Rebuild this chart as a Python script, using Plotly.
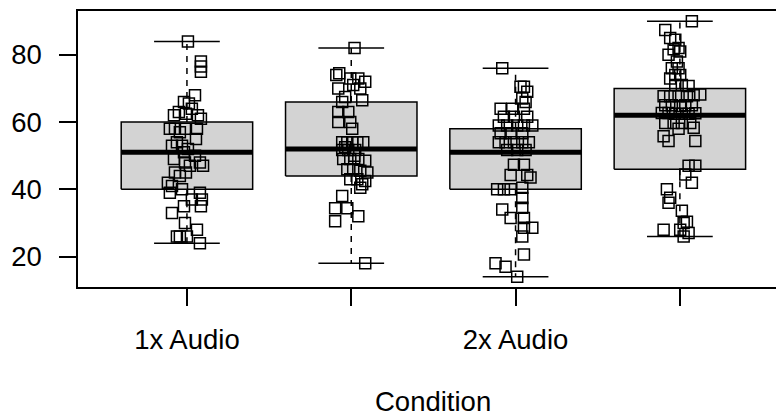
import plotly.graph_objects as go

# Condition positions and axis labels
positions = [1, 2, 3, 4]
tick_labels = ["1x Audio", "", "2x Audio", ""]
y_ticks = [20, 40, 60, 80]

# Box statistics per condition (lower whisker, Q1, median, Q3, upper whisker)
lower_whisker = [24, 18, 14, 26]
q1 = [40, 44, 40, 46]
median = [51, 52, 51, 62]
q3 = [60, 66, 58, 70]
upper_whisker = [84, 82, 76, 90]

# Individual scores and their horizontal jitter (category units)
g1_values = [84, 78, 76.5, 75, 68, 66, 65.5, 64, 63, 62, 62.5, 62, 61, 58, 58, 57, 58, 58, 55, 53,
             54, 53, 52, 51, 49, 48, 48, 47, 45, 44, 45, 42, 41, 39, 39, 37, 37, 35, 33, 30,
             26, 26, 26, 28, 24, 35, 40, 50, 47]
g1_jitter = [0.006, 0.085, 0.085, 0.085, 0.049, -0.018, 0.012, 0.030, -0.049, -0.079, -0.006, 0.067,
             0.085, -0.104, -0.073, -0.043, -0.012, 0.061, 0.055, -0.091, -0.061, -0.030, 0.006,
             -0.018, -0.079, -0.012, 0.079, 0.098, -0.073, -0.043, -0.006, -0.116, -0.091, -0.104,
             0.079, 0.091, 0.030, 0.085, -0.091, -0.012, -0.043, -0.061, 0.000, 0.061, 0.079,
             -0.018, -0.030, 0.049, 0.018]

g2_values = [82, 74, 74.5, 70, 73, 73, 72, 71, 70, 67.5, 66.5, 66, 63, 63, 60, 60, 58, 54, 54, 54,
             54, 54, 51.7, 51.7, 51.7, 49, 49, 49, 48.5, 46, 46, 45.5, 45, 43, 43, 42.5, 40.5, 41.5,
             38, 34.4, 34.4, 30.5, 32, 18, 52.5, 50]
g2_jitter = [0.020, -0.091, -0.073, -0.079, -0.006, 0.043, 0.085, 0.012, 0.055, -0.037, 0.067, -0.055,
             -0.079, -0.018, -0.079, -0.006, 0.006, -0.055, -0.024, 0.006, 0.037, 0.073, -0.055,
             -0.018, 0.024, -0.049, -0.006, 0.043, 0.085, -0.024, 0.012, 0.055, 0.098, -0.006,
             0.037, 0.085, 0.055, 0.067, -0.055, -0.098, -0.024, -0.098, 0.043, 0.085, -0.037, 0.018]

g3_values = [76, 70.5, 70.5, 69, 67, 66, 64, 64, 64, 61.6, 61.6, 61.6, 59, 59, 59, 59, 59, 56.7, 56.7,
             56.7, 54, 54, 54, 54, 54, 51.7, 51.7, 51.7, 47.3, 47.3, 44.3, 44.3, 43.5, 40, 40, 40,
             40.5, 37.4, 34.5, 34, 31.5, 31.5, 28.6, 28.6, 26, 20.6, 18, 17, 14]
g3_jitter = [-0.081, 0.030, 0.051, 0.071, 0.041, 0.061, -0.091, -0.020, 0.051, -0.071, -0.010, 0.071,
             -0.102, -0.051, 0.010, 0.051, 0.102, -0.091, -0.030, 0.041, -0.102, -0.061, -0.010,
             0.041, 0.081, -0.051, 0.010, 0.061, -0.010, 0.051, -0.030, 0.071, 0.091, -0.112,
             -0.071, -0.030, 0.041, 0.041, 0.041, -0.081, -0.030, 0.051, 0.051, 0.102, 0.041,
             0.051, -0.122, -0.061, 0.010]

g4_values = [90, 87.4, 85, 84.5, 82, 81.7, 81, 80, 78, 76, 76, 74, 74, 73, 71, 71, 70.7, 67.7, 67.7,
             67.7, 67.7, 68, 68.2, 65, 65, 64.8, 65, 65, 62.7, 62.7, 62.5, 62.5, 62.5, 62.6, 59.7,
             59.7, 59.7, 59.7, 58, 58.3, 55.8, 54.4, 54.4, 47, 47, 44.4, 42, 40, 37.5, 36, 33.6,
             30.4, 30, 28, 28, 27, 26]
g4_jitter = [0.073, -0.089, -0.059, -0.028, -0.008, -0.038, 0.002, -0.069, -0.018, -0.049, -0.008,
             -0.028, 0.002, -0.059, -0.028, 0.012, 0.053, -0.099, -0.059, -0.008, 0.043, 0.084,
             0.124, -0.089, -0.049, 0.002, 0.033, 0.073, -0.110, -0.069, -0.028, 0.012, 0.053,
             0.094, -0.089, -0.038, 0.012, 0.063, -0.008, 0.084, -0.099, -0.069, 0.094, 0.053,
             0.094, 0.033, 0.073, -0.079, -0.059, -0.069, 0.012, 0.043, 0.023, 0.002, -0.099,
             0.053, 0.023]

groups = [(g1_values, g1_jitter), (g2_values, g2_jitter), (g3_values, g3_jitter), (g4_values, g4_jitter)]

FONT = "Liberation Sans, Arial, Helvetica, sans-serif"
FS = 27.5
BOX_HALF = 0.4
STAPLE_HALF = 0.2
LW = 1.5

fig = go.Figure()

for i, c in enumerate(positions):
    # dashed whiskers
    for a, b in ((q3[i], upper_whisker[i]), (q1[i], lower_whisker[i])):
        fig.add_trace(go.Scatter(x=[c, c], y=[a, b], mode="lines",
                                 line=dict(color="black", width=LW, dash="6px,6px"),
                                 hoverinfo="skip", showlegend=False))
    # staples
    for w in (upper_whisker[i], lower_whisker[i]):
        fig.add_trace(go.Scatter(x=[c - STAPLE_HALF, c + STAPLE_HALF], y=[w, w], mode="lines",
                                 line=dict(color="black", width=LW),
                                 hoverinfo="skip", showlegend=False))
    # box
    fig.add_trace(go.Scatter(
        x=[c - BOX_HALF, c + BOX_HALF, c + BOX_HALF, c - BOX_HALF, c - BOX_HALF],
        y=[q1[i], q1[i], q3[i], q3[i], q1[i]],
        mode="lines", fill="toself", fillcolor="#d3d3d3",
        line=dict(color="black", width=LW), hoverinfo="skip", showlegend=False))
    # median
    fig.add_trace(go.Scatter(x=[c - BOX_HALF, c + BOX_HALF], y=[median[i], median[i]], mode="lines",
                             line=dict(color="black", width=5),
                             hoverinfo="skip", showlegend=False))

# jittered points
for c, (vals, jit) in zip(positions, groups):
    fig.add_trace(go.Scatter(
        x=[c + j for j in jit], y=vals, mode="markers",
        marker=dict(symbol="square-open", size=11, color="black", line=dict(width=1.5)),
        showlegend=False))

fig.update_layout(
    width=776, height=417,
    margin=dict(l=78, r=0, t=11, b=130),
    plot_bgcolor="white", paper_bgcolor="white",
    font=dict(family=FONT, size=FS, color="black"),
    xaxis=dict(range=[0.337, 4.585], tickvals=positions, ticktext=tick_labels,
               ticks="outside", ticklen=17, tickwidth=LW, tickcolor="black",
               showline=True, linewidth=LW, linecolor="black", mirror=True,
               showgrid=False, zeroline=False, tickfont=dict(size=FS),
               ticklabelstandoff=10),
    yaxis=dict(range=[10.96, 93.04], tickvals=y_ticks,
               ticks="outside", ticklen=17, tickwidth=LW, tickcolor="black",
               showline=True, linewidth=LW, linecolor="black",
               showgrid=False, zeroline=False, tickfont=dict(size=FS),
               ticklabelstandoff=12),
    annotations=[dict(text="Condition", xref="paper", yref="paper", x=0.508, y=-0.478,
                      xanchor="center", yanchor="bottom", showarrow=False,
                      font=dict(size=FS, family=FONT))],
)

fig.write_html("out.html")
